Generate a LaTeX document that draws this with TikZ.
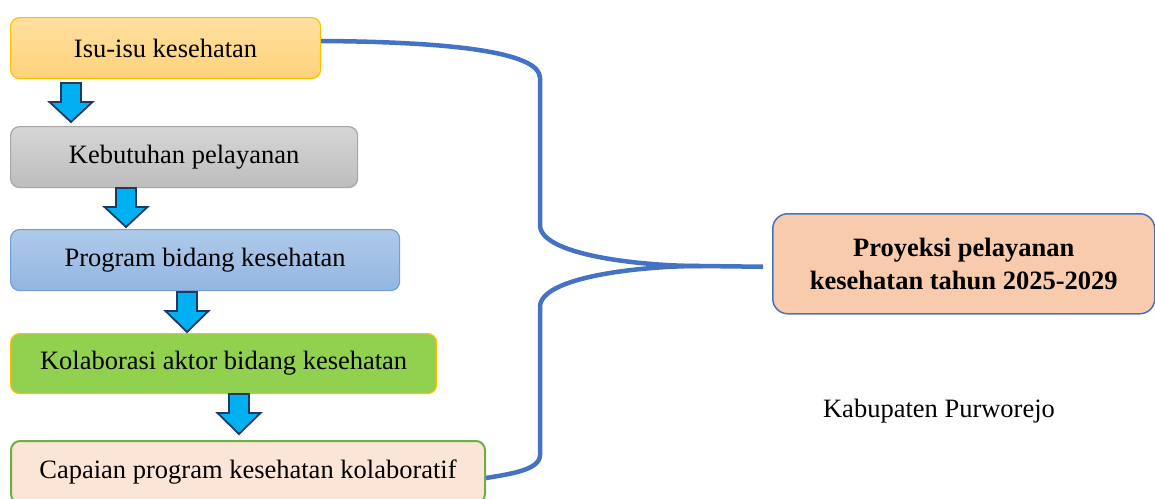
\documentclass[tikz,border=0pt]{standalone}
\usepackage{fontspec}
\setmainfont{Liberation Serif}
\definecolor{linkblue}{HTML}{4472C4}
\definecolor{arrfill}{HTML}{00B0F0}
\definecolor{arrline}{HTML}{1F3864}
\definecolor{gold}{HTML}{FFC000}
\tikzset{
  box/.style={draw, rounded corners=9pt, anchor=north west, inner sep=0pt, line width=1.2pt,
    font=\fontsize{26.5}{32}\selectfont, align=center},
  link/.style={draw=linkblue, line width=4.5pt},
  downarr/.style={fill=arrfill, draw=arrline, line width=1.8pt, line join=miter}
}
\newcommand{\dnarrow}[3]{% center x, top y, bottom y
  \draw[downarr] (#1-10,#2) -- (#1+10,#2) -- (#1+10,#2+19) -- (#1+21.5,#2+19) -- (#1,#3)
    -- (#1-21.5,#2+19) -- (#1-10,#2+19) -- cycle;}
\begin{document}
\begin{tikzpicture}[x=1pt,y=-1pt]
\useasboundingbox (0,0) rectangle (1155,498);
\node[box, draw=gold, top color={rgb,255:red,255;green,224;blue,160}, bottom color={rgb,255:red,255;green,210;blue,122},
  minimum width=310pt, minimum height=61pt] (b1) at (10,17) {Isu-isu kesehatan};
\node[box, draw={rgb,255:red,166;green,166;blue,166}, top color={rgb,255:red,214;green,214;blue,214}, bottom color={rgb,255:red,189;green,189;blue,189},
  minimum width=347pt, minimum height=61pt] (b2) at (10,126) {Kebutuhan pelayanan};
\node[box, draw={rgb,255:red,111;green,160;blue,216}, top color={rgb,255:red,175;green,202;blue,234}, bottom color={rgb,255:red,147;green,182;blue,224},
  minimum width=389pt, minimum height=61pt] (b3) at (10,229) {Program bidang kesehatan};
\node[box, draw=gold, fill={rgb,255:red,146;green,208;blue,80},
  minimum width=426pt, minimum height=60pt] (b4) at (10,333) {Kolaborasi aktor bidang kesehatan};
\node[box, draw={rgb,255:red,112;green,173;blue,71}, line width=2pt, fill={rgb,255:red,251;green,229;blue,214},
  minimum width=474pt, minimum height=62pt] (b5) at (10,440) {Capaian program kesehatan kolaboratif};
\node[box, draw=linkblue, line width=1.5pt, rounded corners=15pt, fill={rgb,255:red,248;green,203;blue,173},
  minimum width=382pt, minimum height=100pt, font=\fontsize{26.5}{33}\selectfont\bfseries] (proj) at (772,213)
  {Proyeksi pelayanan\\kesehatan tahun 2025-2029};
\node[font=\fontsize{26.5}{32}\selectfont, inner sep=0pt] (kab) at (939,411) {Kabupaten Purworejo};

\dnarrow{71}{83}{122}
\dnarrow{126}{188}{227}
\dnarrow{187}{292}{332}
\dnarrow{239}{394}{434}

\coordinate (m) at (700,266);
\coordinate (e) at ([xshift=-9pt,yshift=-3pt]proj.west);
\draw[link] (b1.east |- 0,41) .. controls (470,42) and (540,55) .. (540,78) -- (540,225)
  .. controls (540,255) and (640,266) .. (m) -- (e);
\draw[link] (b5.east |- 0,478) .. controls (510,474) and (540,470) .. (540,455) -- (540,307)
  .. controls (540,277) and (640,266) .. (m);
\end{tikzpicture}
\end{document}
